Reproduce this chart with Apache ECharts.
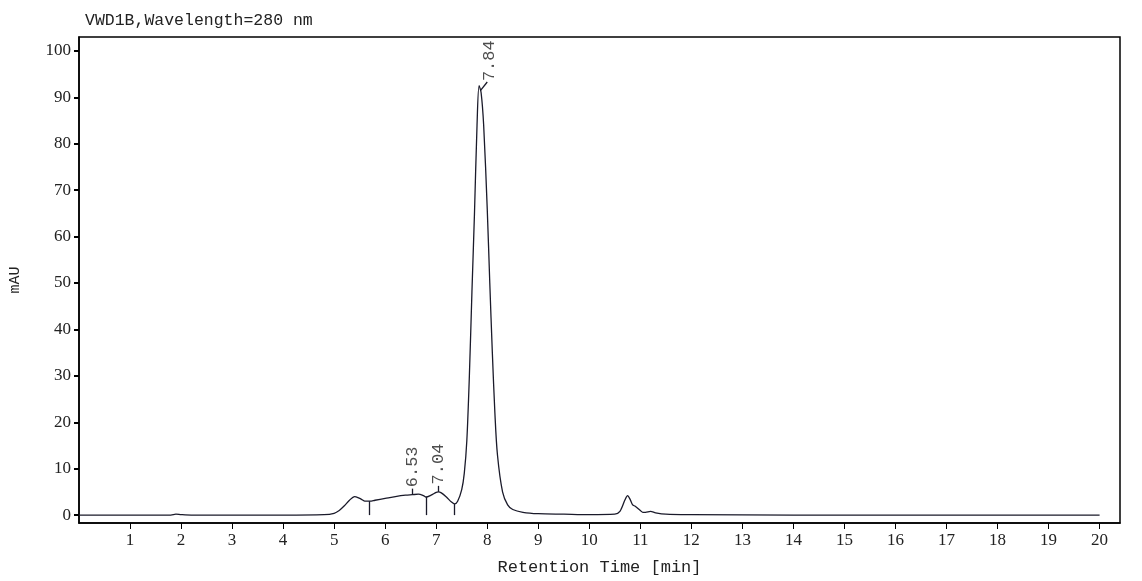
<!DOCTYPE html><html><head><meta charset="utf-8">
<script src="https://cdn.jsdelivr.net/npm/echarts@6/dist/echarts.min.js"></script>
<style>html,body{margin:0;background:#fff}#c{width:1142px;height:581px}</style></head><body><div id="c"></div>
<script>
const times=[0,1,1.8,1.9,2.0,2.2,3,4,4.8,5.0,5.1,5.2,5.3,5.4,5.5,5.55,5.6,5.7,5.8,6.0,6.2,6.4,6.53,6.65,6.75,6.8,6.9,7.0,7.04,7.1,7.2,7.3,7.36,7.42,7.5,7.55,7.6,7.65,7.7,7.75,7.8,7.84,7.88,7.93,8.0,8.05,8.1,8.15,8.2,8.3,8.4,8.5,8.7,9,9.5,10,10.5,10.6,10.7,10.75,10.8,10.85,10.9,11.0,11.05,11.1,11.2,11.3,11.5,12,14,17,20];
const signal=[0,0,0,0.2,0.1,0,0,0,0.1,0.4,1.0,2.0,3.2,4.0,3.6,3.3,3.0,3.0,3.2,3.6,4.0,4.3,4.4,4.5,4.2,3.9,4.3,4.9,5.0,4.8,3.9,2.8,2.4,3.0,5.5,9,16,30,48,65,84,92.5,91,84,66,50,35,22,13,5,2.2,1.2,0.6,0.3,0.2,0.1,0.2,0.8,3.3,4.2,3.4,2.2,1.9,1.0,0.6,0.6,0.8,0.5,0.2,0.1,0,0,0];
const dropTimes=[5.68,6.8,7.36];
const dropHeights=[3.0,3.9,2.4];
const peakTimes=[6.53,7.04];
const peakHeights=[4.4,5.0];
const peakLabels=["6.53","7.04"];
const mainPeak={t:7.84,y:92.5,label:"7.84"};
const xTicks=[1,2,3,4,5,6,7,8,9,10,11,12,13,14,15,16,17,18,19,20];
const yTicks=[0,10,20,30,40,50,60,70,80,90,100];
const F='"Liberation Mono", monospace';
const lines=[];
dropTimes.forEach((t,i)=>lines.push([{coord:[t,0]},{coord:[t,dropHeights[i]]}]));
peakTimes.forEach((t,i)=>lines.push([{coord:[t,peakHeights[i]]},{coord:[t,peakHeights[i]+1.3]}]));
lines.push([{coord:[mainPeak.t+0.03,mainPeak.y-1]},{coord:[mainPeak.t+0.16,mainPeak.y+0.8]}]);
const ch=echarts.init(document.getElementById('c'));
ch.setOption({animation:false,
 grid:{left:74,right:22,top:37,bottom:52,show:true,borderColor:'#000',borderWidth:1.5},
 title:{text:'VWD1B,Wavelength=280 nm',left:80,top:7,textStyle:{fontFamily:F,fontSize:16.5,fontWeight:'normal',color:'#222'}},
 xAxis:{type:'value',min:0,max:20.4,name:'Retention Time [min]',nameLocation:'middle',nameGap:36,
  nameTextStyle:{fontFamily:F,fontSize:17,color:'#222'},splitLine:{show:false},
  axisLine:{onZero:false,lineStyle:{color:'#000',width:1.5}},
  axisTick:{customValues:xTicks,length:6,lineStyle:{color:'#000'}},
  axisLabel:{customValues:xTicks,fontFamily:'"Liberation Serif", serif',fontSize:17,color:'#222',margin:9}},
 yAxis:{type:'value',min:-1.7,max:103,name:'mAU',nameLocation:'middle',nameGap:56,
  nameTextStyle:{fontFamily:F,fontSize:15,color:'#222'},splitLine:{show:false},
  axisLine:{lineStyle:{color:'#000',width:1.5}},
  axisTick:{customValues:yTicks,length:5,lineStyle:{color:'#000',width:2}},
  axisLabel:{customValues:yTicks,fontFamily:'"Liberation Serif", serif',fontSize:17,color:'#222',margin:8}},
 series:[
  {type:'line',data:times.map((t,i)=>[t,signal[i]]),showSymbol:false,smooth:0.3,
   lineStyle:{color:'#1a1a2a',width:1.3},
   markLine:{symbol:'none',silent:true,label:{show:false},lineStyle:{color:'#1a1a2a',width:1.3,type:'solid'},data:lines}},
  {type:'scatter',symbolSize:0,
   data:peakTimes.map((t,i)=>({value:[t,peakHeights[i]+1.6],label:{formatter:peakLabels[i]}})).concat([{value:[mainPeak.t+0.2,mainPeak.y+1],label:{formatter:mainPeak.label}}]),
   label:{show:true,rotate:90,position:'inside',align:'left',verticalAlign:'middle',fontFamily:F,fontSize:17,color:'#222'}}
 ]});
</script></body></html>
